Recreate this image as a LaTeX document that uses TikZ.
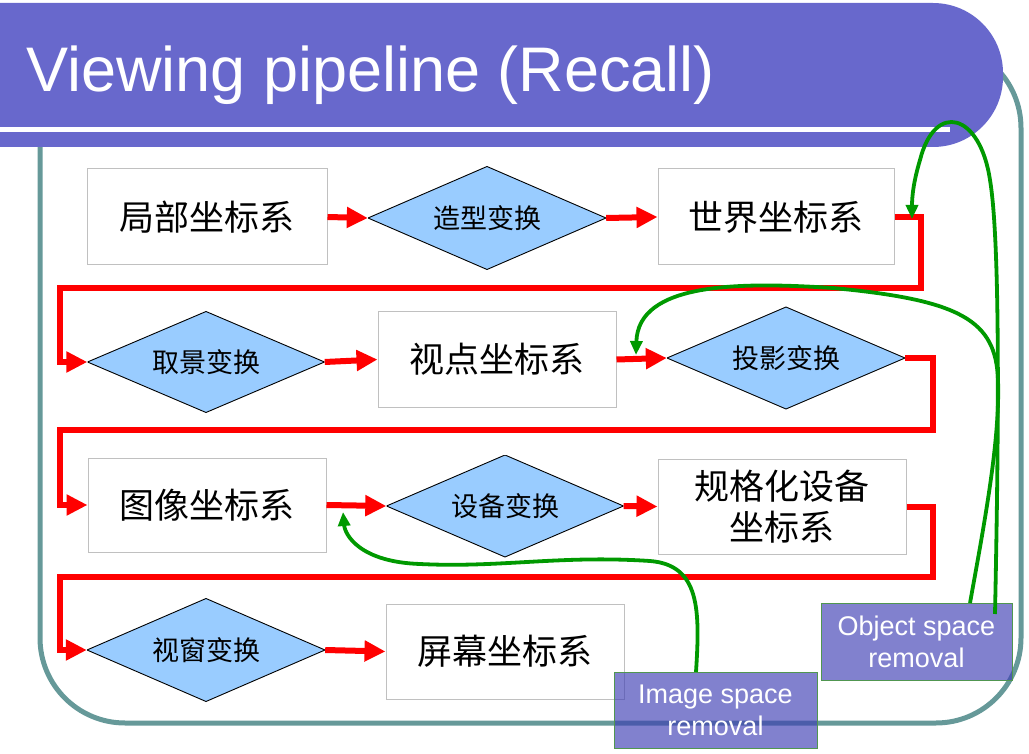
\documentclass[tikz,border=0pt]{standalone}
\usepackage{fontspec}
\setmainfont{Liberation Sans}
\newfontfamily\cjk{Noto Sans CJK SC}
\usetikzlibrary{arrows.meta}
\definecolor{barpurple}{RGB}{104,104,204}
\definecolor{framecol}{RGB}{102,153,153}
\definecolor{diafill}{RGB}{153,204,255}
\definecolor{boxline}{RGB}{192,192,192}
\definecolor{flowred}{RGB}{255,0,0}
\definecolor{hintgreen}{RGB}{0,153,0}
\definecolor{notefill}{RGB}{62,62,180}
\definecolor{noteline}{RGB}{80,150,80}
\begin{document}
\begin{tikzpicture}[x=1pt,y=-1pt,
  csys/.style={draw=boxline,line width=1pt,fill=white,inner sep=0pt,
    font=\cjk\fontsize{35}{41}\selectfont,align=center},
  xform/.style={rectangle,inner sep=0pt,
    font=\cjk\fontsize{27}{32}\selectfont,
    path picture={\filldraw[fill=diafill,draw=black,line width=0.9pt]
      (path picture bounding box.west) -- (path picture bounding box.north)
      -- (path picture bounding box.east) -- (path picture bounding box.south)
      -- cycle;}},
  flow/.style={draw=flowred,line width=6pt,-{Triangle[length=21pt,width=20pt]}},
  flowturn/.style={draw=flowred,line width=6pt,line join=miter,
    -{Triangle[length=21pt,width=20pt]}},
  hint/.style={draw=hintgreen,line width=3.8pt,
    -{Triangle[length=14pt,width=12pt]}},
  note/.style={draw=noteline,line width=1pt,fill=notefill,fill opacity=0.65,
    text opacity=1,text=white,inner sep=0pt,align=center,
    font=\fontsize{27}{32}\selectfont}]
\useasboundingbox (0,0) rectangle (1029,754);

% outer frame
\draw[framecol,line width=5pt,rounded corners=85pt] (40,43) rectangle (1021,723);

% title bar
\fill[barpurple,rounded corners=70pt] (-150,3) rectangle (1003,147);
\fill[white] (0,127) rectangle (950,132);
\node[anchor=base west,inner sep=0pt,text=white,font=\fontsize{63}{70}\selectfont]
  (title) at (26,92) {Viewing pipeline (Recall)};

% coordinate systems
\node[csys,minimum width=240pt,minimum height=96pt] (b1) at (207,217) {局部坐标系};
\node[csys,minimum width=236pt,minimum height=96pt] (b2) at (776,217) {世界坐标系};
\node[csys,minimum width=238pt,minimum height=95pt] (b3) at (497,359.5) {视点坐标系};
\node[csys,minimum width=238pt,minimum height=94pt] (b4) at (207,505) {图像坐标系};
\node[csys,minimum width=248pt,minimum height=95pt] (b5) at (782,506.5) {规格化设备\\坐标系};
\node[csys,minimum width=238pt,minimum height=95pt] (b6) at (505,651.5) {屏幕坐标系};

% transformations
\node[xform,minimum width=238pt,minimum height=103pt] (d1) at (487,218) {造型变换};
\node[xform,minimum width=237pt,minimum height=101pt] (d2) at (206,362) {取景变换};
\node[xform,minimum width=238pt,minimum height=102pt] (d3) at (786,358) {投影变换};
\node[xform,minimum width=237pt,minimum height=102pt] (d4) at (505,506) {设备变换};
\node[xform,minimum width=238pt,minimum height=103pt] (d5) at (206,650) {视窗变换};

% turning points of the pipeline
\coordinate (t1) at (921,288);
\coordinate (s1) at (60,288);
\coordinate (t2) at (933,430);
\coordinate (s2) at (60,430);
\coordinate (t3) at (933,577);
\coordinate (s3) at (60,577);

% pipeline
\draw[flow] (b1.east) -- (d1.west);
\draw[flow] (d1.east) -- (b2.west);
\draw[flowturn] (b2.east) -| (t1) -- (s1) |- (d2.west);
\draw[flow] (d2.east) -- (b3.west);
\draw[flow] (b3.east) -- (d3.west);
\draw[flowturn] (d3.east) -| (t2) -- (s2) |- (b4.west);
\draw[flow] (b4.east) -- (d4.west);
\draw[flow] (d4.east) -- (b5.west);
\draw[flowturn] (b5.east) -| (t3) -- (s3) |- (d5.west);
\draw[flow] (d5.east) -- (b6.west);

% removal notes
\node[note,minimum width=191pt,minimum height=77pt] (obj) at (916.5,641.5)
  {Object space\\removal};
\node[note,minimum width=203pt,minimum height=76pt] (img) at (715.5,710)
  {Image space\\removal};

% where the removal steps act
\coordinate (objA) at (970,603);
\coordinate (objB) at (995,614);
\coordinate (imgA) at (696,672);
\coordinate (wtip) at (912,219);
\coordinate (vtip) at (636,355);
\coordinate (itip) at (343,512);

\draw[hint] (objB) .. controls (999,420) and (1000,240) .. (990,180)
  .. controls (980,113) and (935,101) .. (920,160)
  .. controls (914,180) and (912,195) .. (wtip);
\draw[hint] (objA) .. controls (985,520) and (1000,440) .. (998,380)
  .. controls (996,320) and (960,300) .. (833,288)
  .. controls (740,282) and (638,282) .. (vtip);
\draw[hint] (imgA) .. controls (700,610) and (700,565) .. (650,561)
  .. controls (560,555) and (500,568) .. (420,564)
  .. controls (360,562) and (345,535) .. (itip);
\end{tikzpicture}
\end{document}
